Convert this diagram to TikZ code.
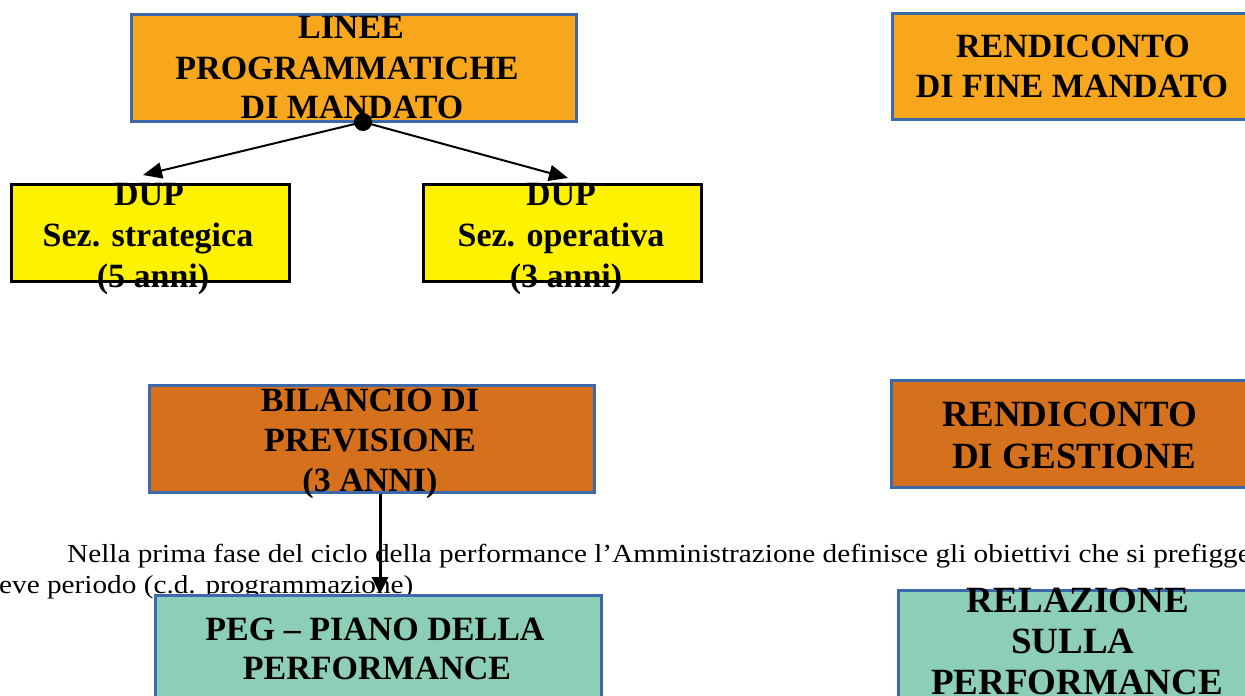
\documentclass[tikz,border=0pt]{standalone}
\usepackage{fontspec}
\setmainfont{Liberation Serif}
\newfontfamily\bodyfont[FakeStretch=1.125]{Liberation Serif}
\usetikzlibrary{arrows.meta}
\definecolor{boxblue}{HTML}{3B69AA}
\definecolor{lightorange}{HTML}{F8A61C}
\definecolor{darkorange}{HTML}{D5711C}
\definecolor{dupyellow}{HTML}{FFF200}
\definecolor{mint}{HTML}{8DCFB6}
\begin{document}
\begin{tikzpicture}[x=1pt,y=-1pt,
  box/.style={draw=boxblue, line width=2.5pt, inner sep=0pt, anchor=north west},
  dupbox/.style={draw=black, line width=3pt, fill=dupyellow, inner sep=0pt, anchor=north west},
  lbl/.style={font=\bfseries\fontsize{34}{40}\selectfont, anchor=base, inner sep=0pt},
  lblbig/.style={font=\bfseries\fontsize{37}{42}\selectfont, anchor=base, inner sep=0pt},
  body/.style={font=\bodyfont\fontsize{26}{30}\selectfont, anchor=base west, inner sep=0pt},
  conn/.style={line width=2pt, -{Triangle[length=19pt,width=16pt]}},
  vconn/.style={line width=3pt, -{Triangle[length=17pt,width=16pt]}}]
\useasboundingbox (0,0) rectangle (1245,696);
\clip (0,0) rectangle (1245,696);
% top left
\node[box, fill=lightorange, minimum width=445pt, minimum height=107pt] (lin) at (130,13) {};
\node[lbl] (lin1) at (351,38) {LINEE};
\node[lbl] (lin2) at (347,79) {PROGRAMMATICHE};
\node[lbl] (lin3) at (352,118) {DI MANDATO};
% DUP boxes
\node[dupbox, minimum width=278pt, minimum height=97pt] (dups) at (10,183) {};
\node[lbl] (dups1) at (149,205) {DUP};
\node[lbl] (dups2) at (148,246) {Sez. strategica};
\node[lbl] (dups3) at (153,287) {(5 anni)};
\node[dupbox, minimum width=278pt, minimum height=97pt] (dupo) at (422,183) {};
\node[lbl] (dupo1) at (561,205) {DUP};
\node[lbl] (dupo2) at (561,246) {Sez. operativa};
\node[lbl] (dupo3) at (566,287) {(3 anni)};
% connectors from dot
\coordinate (dot) at (363,122);
\coordinate (tipL) at (143,175);
\coordinate (tipR) at (568,178);
\draw[conn] (dot) -- (tipL);
\draw[conn] (dot) -- (tipR);
\fill (dot) circle (9pt);
% top right
\node[box, fill=lightorange, minimum width=370pt, minimum height=106pt] (rfm) at (891,12) {};
\node[lbl] (rfm1) at (1073,57) {RENDICONTO};
\node[lbl] (rfm2) at (1072,97) {DI FINE MANDATO};
% bilancio
\node[box, fill=darkorange, minimum width=445pt, minimum height=107pt] (bil) at (148,384) {};
\node[lbl] (bil1) at (370,411) {BILANCIO DI};
\node[lbl] (bil2) at (370,451) {PREVISIONE};
\node[lbl] (bil3) at (370,491) {(3 ANNI)};
% rendiconto gestione
\node[box, fill=darkorange, minimum width=370pt, minimum height=107pt] (rg) at (890,379) {};
\node[lblbig] (rg1) at (1070,426) {RENDICONTO};
\node[lblbig] (rg2) at (1074,468) {DI GESTIONE};
% body text
\node[body] (p1) at (67,562) {Nella prima fase del ciclo della performance l’Amministrazione definisce gli obiettivi che si prefigge};
\node[body] (p2) at (-1,593) {eve periodo (c.d. programmazione)};
% PEG
\node[box, fill=mint, minimum width=446pt, minimum height=110pt] (peg) at (154,594) {};
\node[lbl] (peg1) at (375,640) {PEG – PIANO DELLA};
\node[lbl] (peg2) at (377,679) {PERFORMANCE};
% relazione
\node[box, fill=mint, minimum width=365pt, minimum height=112pt] (rel) at (897,589) {};
\node[lblbig] (rel1) at (1078,612) {RELAZIONE};
\node[lblbig] (rel2) at (1073,653) {SULLA};
\node[lblbig] (rel3) at (1077,694) {PERFORMANCE};
% arrow bilancio -> peg
\draw[vconn] (bil.south -| 380,0) -- (peg.north -| 380,0);
\end{tikzpicture}
\end{document}
